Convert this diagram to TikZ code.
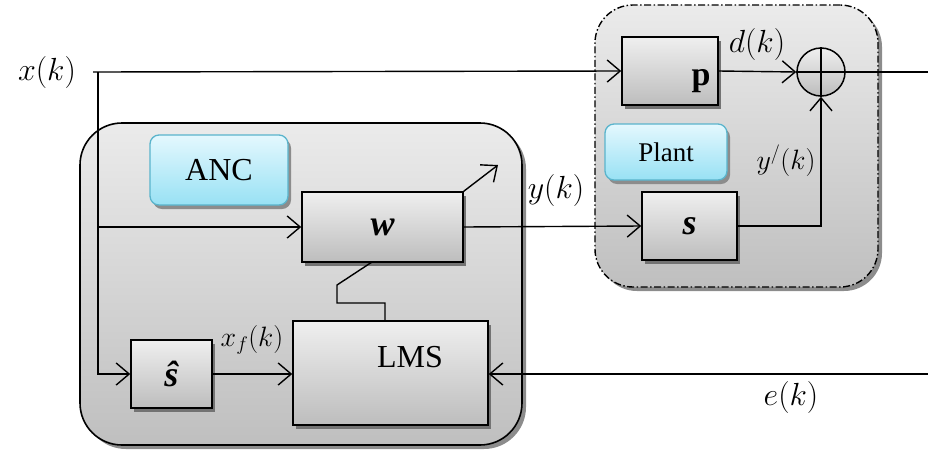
\RequirePackage{fix-cm}
\documentclass[tikz,border=0pt]{standalone}
\usepackage{fontspec}
\setmainfont{Liberation Serif}
\usepackage{amsmath}
\usetikzlibrary{arrows.meta,shadows,calc}

\definecolor{boxtop}{HTML}{EFEFEF}
\definecolor{boxbot}{HTML}{BDBDBD}
\definecolor{grptop}{HTML}{EBEBEB}
\definecolor{grpbot}{HTML}{BFBFBF}
\definecolor{tagtop}{HTML}{E4F8FE}
\definecolor{tagbot}{HTML}{98E1F4}
\definecolor{tagedge}{HTML}{5AB4CC}

\tikzset{
  group/.style={draw=black, line width=1.6pt, rounded corners=42pt,
    top color=grptop, bottom color=grpbot,
    drop shadow={shadow xshift=4pt, shadow yshift=-4pt, fill=black!45, opacity=1}},
  blockbox/.style={draw=black, line width=1.5pt, inner sep=0pt,
    top color=boxtop, bottom color=boxbot,
    drop shadow={shadow xshift=3pt, shadow yshift=-4pt, fill=black!55, opacity=1}},
  tag/.style={draw=tagedge, line width=1.3pt, rounded corners=9pt,
    top color=tagtop, bottom color=tagbot, inner sep=0pt,
    drop shadow={shadow xshift=3pt, shadow yshift=-4pt, fill=black!45, opacity=1}},
  sig/.style={line width=1.4pt, -{Straight Barb[length=13pt,width=22pt,line width=1.4pt]}},
  wire/.style={line width=1.4pt},
  biglbl/.style={font=\fontsize{32}{38}\selectfont, inner sep=0pt},
  smalllbl/.style={font=\fontsize{28}{33}\selectfont, inner sep=0pt},
  symfont/.style={font=\fontsize{36}{42}\selectfont\bfseries\itshape},
}

\begin{document}
\begin{tikzpicture}[x=1pt,y=-1pt]
\useasboundingbox (0,0) rectangle (928,453);

% enclosing groups
\node[group, minimum width=442pt, minimum height=322pt] (anc) at (301,284) {};
\node[group, rounded corners=38pt, dash pattern=on 7pt off 2.5pt on 1.5pt off 2.5pt,
      line width=1.4pt, minimum width=283pt, minimum height=282pt] (plant) at (736.5,146) {};

% group tags
\node[tag, minimum width=138pt, minimum height=70pt, font=\fontsize{32}{38}\selectfont] (anctag) at (219,170) {ANC};
\node[tag, minimum width=122pt, minimum height=56pt, font=\fontsize{27}{32}\selectfont] (planttag) at (666,152) {Plant};

% blocks
\node[blockbox, symfont, minimum width=161pt, minimum height=70pt] (w) at (382.5,227) {w};
\node[blockbox, minimum width=96pt, minimum height=68pt] (p) at (670,71) {};
\node[font=\fontsize{34}{40}\selectfont\bfseries, inner sep=0pt] (ptxt) at (701,81) {p};
\node[blockbox, symfont, minimum width=95pt, minimum height=68pt] (s) at (689.5,226) {s};
\node[blockbox, symfont, minimum width=81pt, minimum height=68pt] (sh) at (171.5,374) {ŝ};
\node[blockbox, minimum width=195pt, minimum height=104pt] (lms) at (390.5,373) {};
\node[font=\fontsize{32}{38}\selectfont, inner sep=0pt] (lmstxt) at (410,357) {LMS};

% summing junction
\node[circle, draw=black, line width=1.5pt, minimum size=48pt, inner sep=0pt,
      top color=boxtop, bottom color=boxbot] (sum) at (821,72) {};
\draw[wire] (sum.north) -- (sum.south) (sum.west) -- (sum.east);

% free ends and bends
\coordinate (xin) at (93,72);
\coordinate (tap) at (98,72);
\coordinate (eout) at (928,72);
\coordinate (ein) at (928,374);
\coordinate (adapt) at (498,165);
\coordinate (wfoot) at (372,262);
\coordinate (bend1) at (337,285);
\coordinate (bend2) at (337,303);
\coordinate (bend3) at (385,303);

% signal labels
\node[biglbl] (xlbl) at (47,72) {$x(k)$};
\node[biglbl] (dlbl) at (757,44) {$d(k)$};
\node[biglbl] (ylbl) at (556,190) {$y(k)$};
\node[smalllbl] (yplbl) at (786,161) {$y^{/}(k)$};
\node[smalllbl] (xflbl) at (252,340) {$x_f(k)$};
\node[biglbl] (elbl) at (791,397) {$e(k)$};

% connectors
\draw[sig] (xin) -- (p.west);
\draw[sig] (tap) |- (sh.west);
\draw[sig] (tap |- w.west) -- (w.west);
\draw[sig] (w.east) -- (s.west);
\draw[sig] (p.east) -- (sum.west);
\draw[sig] (s.east) -| (sum.south);
\draw[wire] (sum.east) -- (eout);
\draw[sig] (sh.east) -- (sh.east -| lms.west);
\draw[sig] (ein) -- (ein -| lms.east);
\draw[sig] (w.north east) -- (adapt);
\draw[wire] (wfoot) -- (bend1) -- (bend2) -- (bend3) -- (bend3 |- lms.north);
\end{tikzpicture}
\end{document}
